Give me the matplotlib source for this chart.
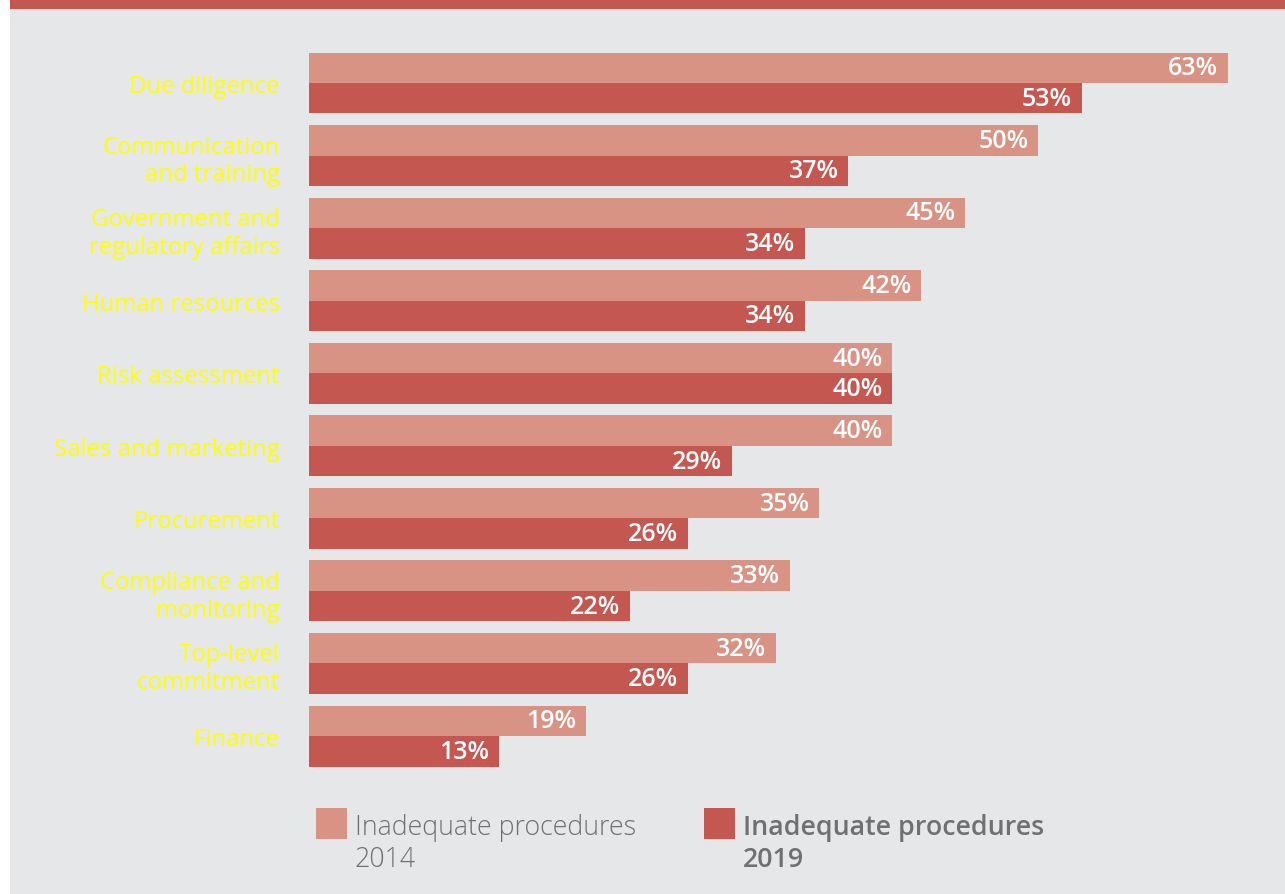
import matplotlib.pyplot as plt
from matplotlib.patches import Rectangle

# 数据
categories = ['Due diligence', 'Communication\nand training', 'Government and\nregulatory affairs',
              'Human resources', 'Risk assessment', 'Sales and marketing', 'Procurement',
              'Compliance and\nmonitoring', 'Top-level\ncommitment', 'Finance']
values_2014 = [63, 50, 45, 42, 40, 40, 35, 33, 32, 19]
values_2019 = [53, 37, 34, 34, 40, 29, 26, 22, 26, 13]
legend_labels = ['Inadequate procedures\n2014', 'Inadequate procedures\n2019']

W, H = 1285, 895
color_2014 = '#D99385'
color_2019 = '#C4574F'
bg = '#E6E7E9'

plt.rcParams['font.family'] = ['Open Sans', 'DejaVu Sans']

fig = plt.figure(figsize=(W / 100, H / 100), dpi=100)
fig.patch.set_facecolor('white')

# 灰色背景和顶部红条
fig.add_artist(Rectangle((10 / W, 0), 1 - 10 / W, 1, transform=fig.transFigure,
                         facecolor=bg, edgecolor='none', zorder=-10))
fig.add_artist(Rectangle((10 / W, 1 - 10 / H), 1 - 10 / W, 10 / H, transform=fig.transFigure,
                         facecolor=color_2019, edgecolor='none', zorder=-9))

# 坐标轴位置（像素）
px_per_pct = 14.58
ax_left, ax_top, ax_bottom = 309, 40, 780
xmax = 66
ax = fig.add_axes([ax_left / W, 1 - ax_bottom / H, xmax * px_per_pct / W, (ax_bottom - ax_top) / H])
ax.set_facecolor('none')

pitch = 72.56
first_center = 84
ax.set_xlim(0, xmax)
ax.set_ylim((ax_bottom - first_center) / pitch, (ax_top - first_center) / pitch)

h = 0.42
ys = list(range(len(categories)))
ax.barh([y - h / 2 for y in ys], values_2014, height=h, color=color_2014)
ax.barh([y + h / 2 for y in ys], values_2019, height=h, color=color_2019)

# 数值标签
for y, v in zip(ys, values_2014):
    ax.annotate(f'{v}%', (v, y - h / 2), xytext=(-7, 0), textcoords='offset points',
                ha='right', va='center', color='white', fontsize=18, fontweight='semibold')
for y, v in zip(ys, values_2019):
    ax.annotate(f'{v}%', (v, y + h / 2), xytext=(-7, 0), textcoords='offset points',
                ha='right', va='center', color='white', fontsize=18, fontweight='semibold')

ax.set_yticks(ys)
ax.set_yticklabels(categories, color='#FFFF00', fontsize=17.2, linespacing=1.2)
ax.tick_params(axis='y', length=0, pad=21)
ax.set_xticks([])
for s in ax.spines.values():
    s.set_visible(False)

# 图例
for x0, col, lab, wt in [(316, color_2014, legend_labels[0], 'light'),
                         (704, color_2019, legend_labels[1], 'semibold')]:
    fig.add_artist(Rectangle((x0 / W, 1 - 840 / H), 31 / W, 31 / H, transform=fig.transFigure,
                             facecolor=col, edgecolor='none'))
    fig.text((x0 + 39) / W, 1 - 814 / H, lab, ha='left', va='top', fontsize=19.3,
             color='#707070', fontweight=wt, linespacing=1.18)

plt.savefig('out.png', dpi=100, facecolor=fig.get_facecolor())
